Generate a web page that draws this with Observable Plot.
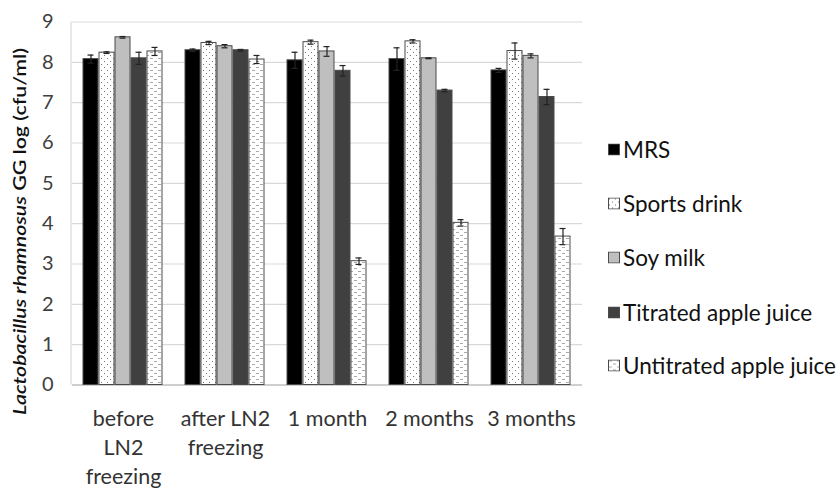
<!DOCTYPE html>
<html><head><meta charset="utf-8">
<script src="https://cdn.jsdelivr.net/npm/d3@7"></script>
<script src="https://cdn.jsdelivr.net/npm/@observablehq/plot@0.6"></script>
<style>
body{margin:0;background:#fff;}
#wrap{position:relative;width:839px;height:488px;font-family:Lato, sans-serif;}
.item{position:absolute;left:608px;display:flex;align-items:center;white-space:nowrap;font-size:22.5px;color:#111;transform:translateY(-50%);}
.item svg{margin-right:3px;}
</style></head><body><div id="wrap"></div>
<script>
const groups = ["before\nLN2\nfreezing", "after LN2\nfreezing", "1 month", "2 months", "3 months"];
const series = ["MRS", "Sports drink", "Soy milk", "Titrated apple juice", "Untitrated apple juice"];
const mrs        = [8.08, 8.30, 8.05, 8.08, 7.80];
const sports     = [8.24, 8.48, 8.50, 8.52, 8.28];
const soy        = [8.62, 8.40, 8.27, 8.10, 8.16];
const titrated   = [8.10, 8.30, 7.79, 7.30, 7.14];
const untitrated = [8.27, 8.07, 3.07, 4.02, 3.68];
const mrsErr        = [0.10, 0.03, 0.20, 0.28, 0.05];
const sportsErr     = [0.02, 0.04, 0.05, 0.04, 0.20];
const soyErr        = [0.02, 0.04, 0.12, 0.01, 0.05];
const titratedErr   = [0.15, 0.02, 0.13, 0.03, 0.19];
const untitratedErr = [0.10, 0.10, 0.08, 0.08, 0.20];
const yTicks = [0, 1, 2, 3, 4, 5, 6, 7, 8, 9];

const values = [mrs, sports, soy, titrated, untitrated];
const errs = [mrsErr, sportsErr, soyErr, titratedErr, untitratedErr];
const fills = ["#000000", "url(#pat-dots)", "#bfbfbf", "#404040", "url(#pat-dash)"];
const fillOf = Object.fromEntries(series.map((s, i) => [s, fills[i]]));

const data = [];
groups.forEach((g, gi) => series.forEach((s, si) => data.push({group: g, series: s, value: values[si][gi], err: errs[si][gi]})));

const plot = Plot.plot({
  width: 839, height: 488,
  marginLeft: 71, marginRight: 256, marginTop: 21.5, marginBottom: 103.5,
  style: {fontFamily: "Lato, sans-serif", background: "#fff"},
  fx: {domain: groups, padding: 0, label: null},
  x: {domain: series, paddingInner: 0.05, paddingOuter: 0.7, axis: null},
  y: {domain: [0, 9]},
  color: {type: "identity"},
  marks: [
    Plot.ruleY(yTicks.slice(1), {stroke: "#d9d9d9", strokeWidth: 1.2}),
    Plot.ruleY([0], {stroke: "#bfbfbf", strokeWidth: 1.5}),
    Plot.rectY(data, {fx: "group", x: "series", y: "value", fill: d => fillOf[d.series], stroke: "#4a4a4a", strokeWidth: 1}),
    Plot.ruleX(data, {fx: "group", x: "series", y1: d => d.value - d.err, y2: d => d.value + d.err, stroke: "#222", strokeWidth: 1.2}),
    Plot.tickY(data, {fx: "group", x: "series", y: d => d.value + d.err, insetLeft: 4.5, insetRight: 4.5, stroke: "#222", strokeWidth: 1.2}),
    Plot.tickY(data, {fx: "group", x: "series", y: d => d.value - d.err, insetLeft: 4.5, insetRight: 4.5, stroke: "#222", strokeWidth: 1.2}),
    Plot.axisY({ticks: yTicks, tickFormat: d => String(d), tickSize: 0, tickPadding: 19, fontSize: 20, fill: "#404040", label: null}),
    Plot.axisFx({anchor: "bottom", tickSize: 0, tickPadding: 20, fontSize: 21.5, lineHeight: 1.36, fill: "#333", label: null})
  ]
});

const svg = d3.select(plot);
const defs = svg.insert("defs", ":first-child");
const pd = defs.append("pattern").attr("id", "pat-dots").attr("patternUnits", "userSpaceOnUse").attr("width", 6).attr("height", 6);
pd.append("rect").attr("width", 6).attr("height", 6).attr("fill", "#fff");
pd.append("rect").attr("x", 1).attr("y", 1).attr("width", 1).attr("height", 1).attr("fill", "#777");
pd.append("rect").attr("x", 4).attr("y", 4).attr("width", 1).attr("height", 1).attr("fill", "#777");
const pa = defs.append("pattern").attr("id", "pat-dash").attr("patternUnits", "userSpaceOnUse").attr("width", 8).attr("height", 6);
pa.append("rect").attr("width", 8).attr("height", 6).attr("fill", "#fff");
pa.append("rect").attr("x", 1).attr("y", 1).attr("width", 3).attr("height", 1).attr("fill", "#aaa");
pa.append("rect").attr("x", 5).attr("y", 4).attr("width", 3).attr("height", 1).attr("fill", "#aaa");

const yScale = plot.scale("y");
svg.append("line").attr("x1", 71).attr("x2", 71)
  .attr("y1", yScale.apply(0)).attr("y2", yScale.apply(9))
  .attr("stroke", "#d9d9d9").attr("stroke-width", 1.2);

const lab = svg.append("text")
  .attr("transform", "translate(26,415) rotate(-90)")
  .attr("text-anchor", "start")
  .attr("textLength", 367).attr("lengthAdjust", "spacingAndGlyphs")
  .attr("font-size", 17).attr("font-weight", 600).attr("fill", "#111");
lab.append("tspan").attr("font-style", "italic").text("Lactobacillus rhamnosus");
lab.append("tspan").text(" GG log (cfu/ml)");

const wrap = document.getElementById("wrap");
wrap.appendChild(plot);

const legendY = [149, 203, 257, 312, 365];
series.forEach((s, i) => {
  const div = document.createElement("div");
  div.className = "item";
  div.style.top = legendY[i] + "px";
  div.innerHTML = `<svg width="12" height="12"><rect x="0.5" y="0.5" width="11" height="11" fill="${fills[i]}" stroke="#4a4a4a"/></svg><span>${s}</span>`;
  wrap.appendChild(div);
});
</script>
</body></html>
